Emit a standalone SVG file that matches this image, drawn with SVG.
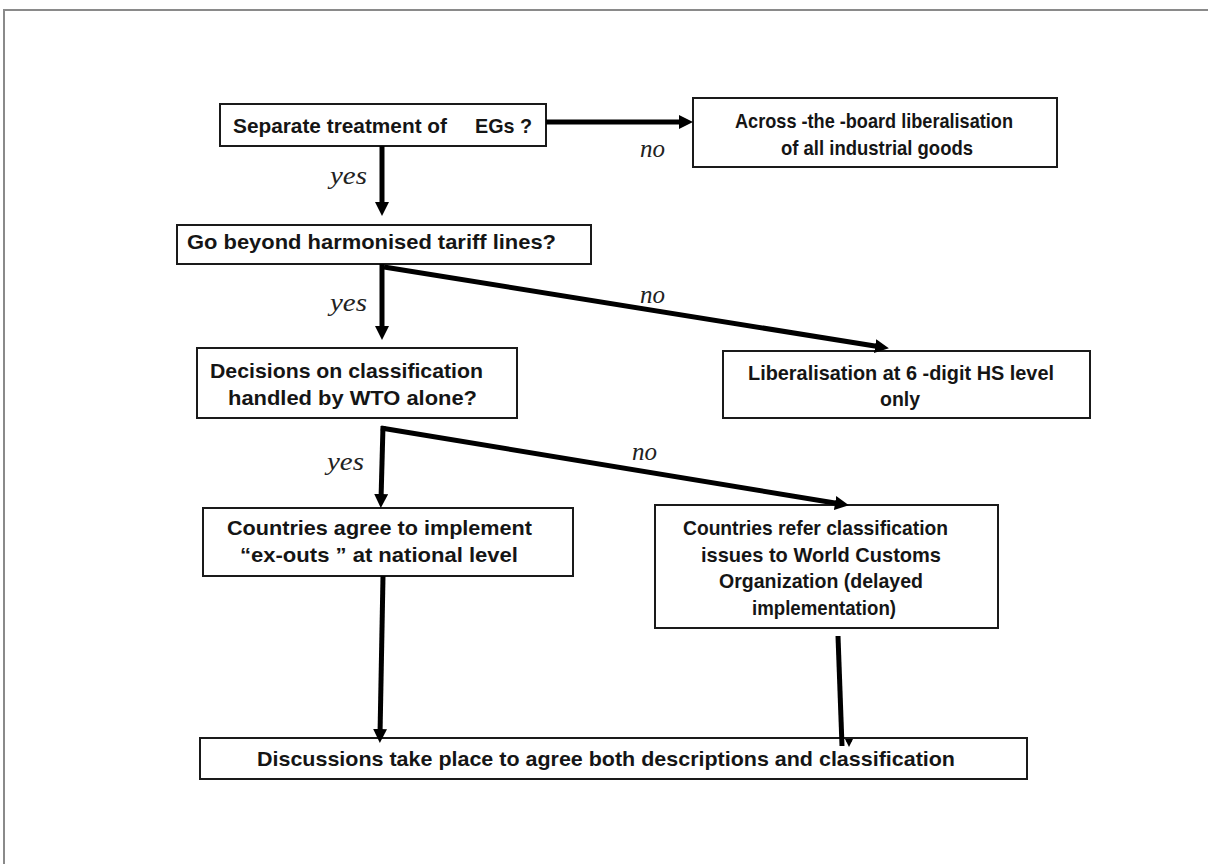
<svg xmlns="http://www.w3.org/2000/svg" width="1208" height="864" viewBox="0 0 1208 864">
<style>
.box{fill:#fff;stroke:#1a1a1a;stroke-width:2}
.t{font-family:"Liberation Sans",Arial,sans-serif;font-weight:bold;font-size:21px;fill:#151515}
.l{font-family:"Liberation Serif","Times New Roman",serif;font-style:italic;font-size:25px;fill:#222}
.c{fill:none;stroke:#000;stroke-width:5}
.frame{stroke:#8a8a8a;stroke-width:2;fill:none}
</style>
<defs>
<marker id="ah" markerUnits="userSpaceOnUse" markerWidth="16" markerHeight="16" refX="6" refY="7" orient="auto">
<path d="M0,0 L14,7 L0,14 z" fill="#000"/>
</marker>
<marker id="ahs" markerUnits="userSpaceOnUse" markerWidth="10" markerHeight="10" refX="3" refY="4" orient="auto">
<path d="M0,0 L8,4 L0,8 z" fill="#000"/>
</marker>
</defs>
<rect width="1208" height="864" fill="#fff"/>
<path class="frame" d="M1208,10 L4,10 L4,864"/>

<g id="n1">
<rect class="box" x="220" y="104" width="326" height="42"/>
<text class="t" y="133"><tspan x="233" textLength="214" lengthAdjust="spacingAndGlyphs">Separate treatment of</tspan><tspan x="475" textLength="57" lengthAdjust="spacingAndGlyphs">EGs ?</tspan></text>
</g>

<g id="n2">
<rect class="box" x="693" y="98" width="364" height="69"/>
<text class="t" x="735" y="128" textLength="278" lengthAdjust="spacingAndGlyphs">Across -the -board liberalisation</text>
<text class="t" x="781" y="155" textLength="192" lengthAdjust="spacingAndGlyphs">of all industrial goods</text>
</g>

<g id="n3">
<rect class="box" x="177" y="225" width="414" height="39"/>
<text class="t" x="187" y="249" textLength="369" lengthAdjust="spacingAndGlyphs">Go beyond harmonised tariff lines?</text>
</g>

<g id="n4">
<rect class="box" x="723" y="351" width="367" height="67"/>
<text class="t" x="748" y="380" textLength="306" lengthAdjust="spacingAndGlyphs">Liberalisation at 6  -digit HS level</text>
<text class="t" x="880" y="406" textLength="40" lengthAdjust="spacingAndGlyphs">only</text>
</g>

<g id="n5">
<rect class="box" x="197" y="348" width="320" height="70"/>
<text class="t" x="210" y="378" textLength="273" lengthAdjust="spacingAndGlyphs">Decisions on classification</text>
<text class="t" x="228" y="405" textLength="249" lengthAdjust="spacingAndGlyphs">handled by WTO alone?</text>
</g>

<g id="n6">
<rect class="box" x="203" y="508" width="370" height="68"/>
<text class="t" x="227" y="535" textLength="305" lengthAdjust="spacingAndGlyphs">Countries agree to implement</text>
<text class="t" x="240" y="562" textLength="278" lengthAdjust="spacingAndGlyphs">“ex-outs ” at national level</text>
</g>

<g id="n7">
<rect class="box" x="655" y="505" width="343" height="123"/>
<text class="t" x="683" y="535" textLength="265" lengthAdjust="spacingAndGlyphs">Countries refer classification</text>
<text class="t" x="701" y="562" textLength="240" lengthAdjust="spacingAndGlyphs">issues to World Customs</text>
<text class="t" x="719" y="588" textLength="204" lengthAdjust="spacingAndGlyphs">Organization (delayed</text>
<text class="t" x="752" y="615" textLength="144" lengthAdjust="spacingAndGlyphs">implementation)</text>
</g>

<g id="n8">
<rect class="box" x="200" y="738" width="827" height="41"/>
<text class="t" x="257" y="766" textLength="698" lengthAdjust="spacingAndGlyphs">Discussions take place to agree both descriptions and classification</text>
</g>

<g id="connectors">
<line class="c" x1="546" y1="122" x2="685" y2="122" marker-end="url(#ah)" stroke-width="6"/>
<line class="c" x1="382" y1="146" x2="382" y2="208" marker-end="url(#ah)"/>
<line class="c" x1="382" y1="264" x2="382" y2="332" marker-end="url(#ah)"/>
<line class="c" x1="384" y1="267" x2="881" y2="347" marker-end="url(#ah)" stroke-width="6"/>
<line class="c" x1="383" y1="426" x2="381" y2="500" marker-end="url(#ah)"/>
<line class="c" x1="381" y1="428" x2="841" y2="504" marker-end="url(#ah)"/>
<line class="c" x1="383" y1="576" x2="380" y2="735" marker-end="url(#ah)" stroke-width="4"/>
<line class="c" x1="838" y1="636" x2="842" y2="746"/>
<line class="c" x1="849" y1="740" x2="849" y2="742" stroke-width="1" marker-end="url(#ahs)"/>
<text class="l" x="640" y="157">no</text>
<text class="l" x="330" y="184" textLength="37" lengthAdjust="spacingAndGlyphs">yes</text>
<text class="l" x="330" y="311" textLength="37" lengthAdjust="spacingAndGlyphs">yes</text>
<text class="l" x="640" y="303">no</text>
<text class="l" x="327" y="470" textLength="37" lengthAdjust="spacingAndGlyphs">yes</text>
<text class="l" x="632" y="460">no</text>
</g>
</svg>
